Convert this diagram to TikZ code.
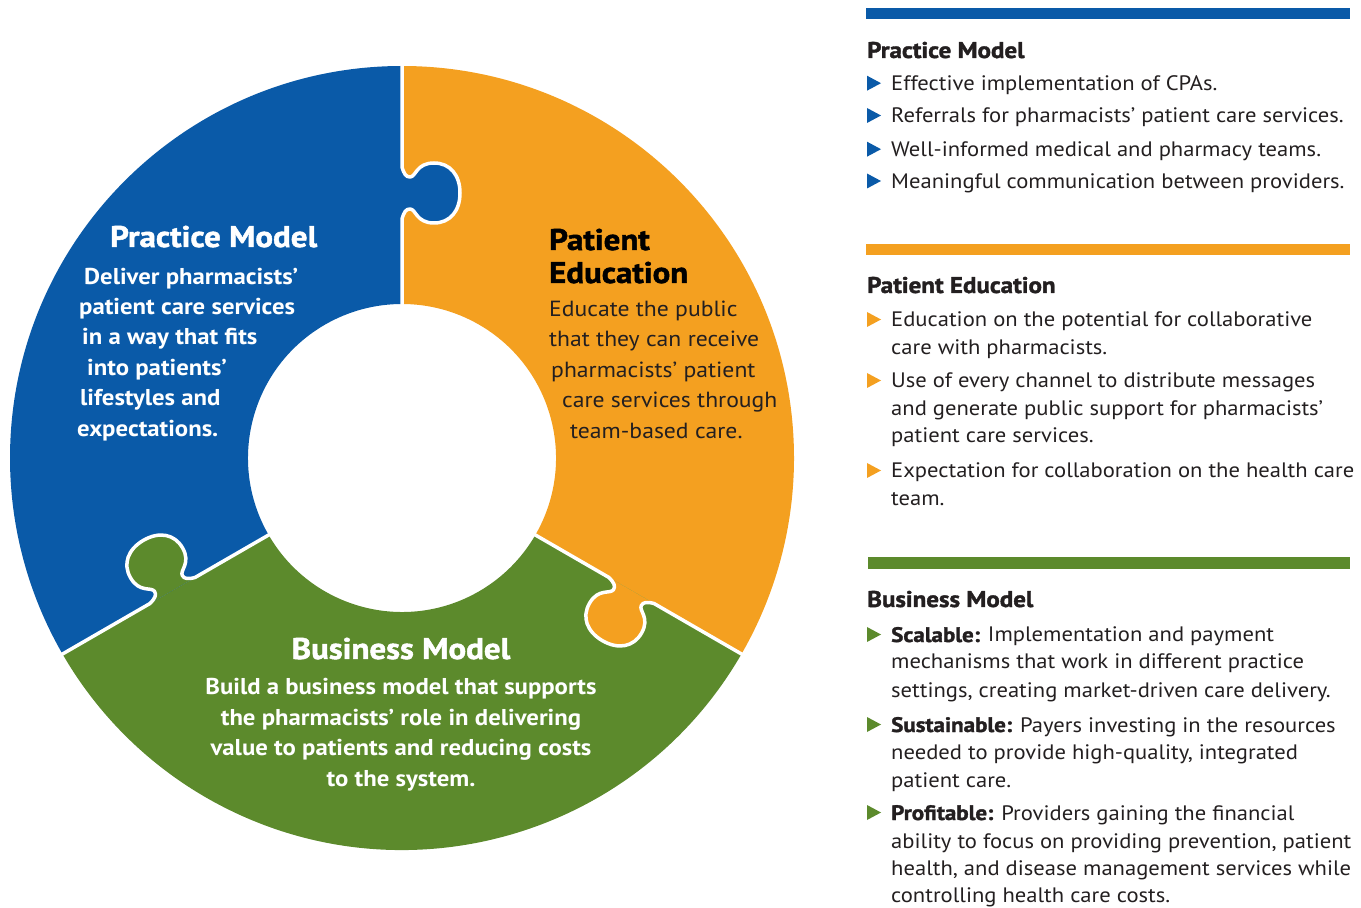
\documentclass[tikz,border=0pt]{standalone}
\usepackage{fontspec}
\setmainfont{PT Sans}[FakeStretch=1.08]
\newfontfamily\heavy{PT Sans Bold}[FakeStretch=1.1,FakeBold=1.6]
\definecolor{pblue}{HTML}{0A5AA8}
\definecolor{porange}{HTML}{F4A020}
\definecolor{pgreen}{HTML}{5C8A2C}
\definecolor{ptext}{HTML}{231F20}
\begin{document}
\begin{tikzpicture}[x=1bp,y=1bp,
  rtxt/.style={inner sep=0, text=ptext, anchor=base west, font=\fontsize{21}{24}\selectfont},
  rhead/.style={inner sep=0, text=ptext, anchor=base west, font=\fontsize{22.8}{24}\selectfont\heavy},
  ringhead/.style={inner sep=0, text=white, font=\fontsize{30}{32}\selectfont\heavy},
  ringbody/.style={inner sep=0, text=white, font=\fontsize{23}{26}\selectfont\bfseries},
  edubody/.style={inner sep=0, text=ptext, anchor=base west, font=\fontsize{22}{26}\selectfont},
  eduhead/.style={inner sep=0, text=black, anchor=base west, font=\fontsize{30}{32}\selectfont\heavy},
  divider/.style={draw=white, line width=3.5bp, line join=round},
]
\useasboundingbox (0,0) rectangle (1361,907);
% ---------------- ring ----------------
\begin{scope}[shift={(402,449)}]
  \fill[porange] (90:392) arc[start angle=90, end angle=-30, radius=392]
      -- (-30:154) arc[start angle=-30, end angle=90, radius=154] -- cycle;
  \fill[pgreen] (-30:392) arc[start angle=-30, end angle=-150, radius=392]
      -- (-150:154) arc[start angle=-150, end angle=-30, radius=154] -- cycle;
  \fill[pblue] (90:392) arc[start angle=90, end angle=210, radius=392]
      -- (210:154) arc[start angle=210, end angle=90, radius=154] -- cycle;
  \foreach \rot/\col in {0/pblue, -120/porange, 120/pgreen}{
    \begin{scope}[rotate=\rot]
      \fill[\col] (0,239) .. controls (2,246) and (4,249) .. (8,249)
        .. controls (14,249) and (14,235) .. (32,235)
        .. controls (48,235) and (58,247) .. (58,265)
        .. controls (58,283) and (48,295) .. (32,295)
        .. controls (14,295) and (14,281) .. (8,281)
        .. controls (4,281) and (2,284) .. (0,291) -- cycle;
      \draw[divider] (0,150) -- (0,239) .. controls (2,246) and (4,249) .. (8,249)
        .. controls (14,249) and (14,235) .. (32,235)
        .. controls (48,235) and (58,247) .. (58,265)
        .. controls (58,283) and (48,295) .. (32,295)
        .. controls (14,295) and (14,281) .. (8,281)
        .. controls (4,281) and (2,284) .. (0,291) -- (0,396);
    \end{scope}
  }
\end{scope}
% ring texts: Practice Model
\node[ringhead, anchor=base west] (pmh) at (110,660) {Practice Model};
\node[ringbody, anchor=base west] (pm1) at (84,622) {Deliver pharmacists’};
\node[ringbody, anchor=base west] (pm2) at (79,592) {patient care services};
\node[ringbody, anchor=base west] (pm3) at (82,562) {in a way that fits};
\node[ringbody, anchor=base west] (pm4) at (87,531) {into patients’};
\node[ringbody, anchor=base west] (pm5) at (80,501) {lifestyles and};
\node[ringbody, anchor=base west] (pm6) at (77,470) {expectations.};
% Patient Education
\node[eduhead] (peh1) at (549,657) {Patient};
\node[eduhead] (peh2) at (549,624) {Education};
\node[edubody] (pe1) at (549,590) {Educate the public};
\node[edubody] (pe2) at (549,560) {that they can receive};
\node[edubody] (pe3) at (551,529) {pharmacists’ patient};
\node[edubody] (pe4) at (562,499) {care services through};
\node[edubody] (pe5) at (570,468) {team-based care.};
% Business Model
\node[ringhead, anchor=base] (bmh) at (401,248) {Business Model};
\node[ringbody, anchor=base] (bm1) at (401,213) {Build a business model that supports};
\node[ringbody, anchor=base] (bm2) at (401,182) {the pharmacists’ role in delivering};
\node[ringbody, anchor=base] (bm3) at (401,152) {value to patients and reducing costs};
\node[ringbody, anchor=base] (bm4) at (401,121) {to the system.};
% ---------------- right column ----------------
\fill[pblue] (866,899) rectangle (1350,888);
\fill[porange] (866,663) rectangle (1350,652);
\fill[pgreen] (868,350) rectangle (1350,338);
\newcommand{\tri}[2]{\fill[#1] (867,#2) -- (867,#2+15) -- (881,#2+7.5) -- cycle;}
% Practice Model
\node[rhead] (h1) at (867,849) {Practice Model};
\tri{pblue}{816.3}\node[rtxt] (a1) at (891,816.3) {Effective implementation of CPAs.};
\tri{pblue}{784}\node[rtxt] (a2) at (891,784) {Referrals for pharmacists’ patient care services.};
\tri{pblue}{750.3}\node[rtxt] (a3) at (891,750.3) {Well-informed medical and pharmacy teams.};
\tri{pblue}{718.5}\node[rtxt] (a4) at (891,718.5) {Meaningful communication between providers.};
% Patient Education
\node[rhead] (h2) at (867,614) {Patient Education};
\tri{porange}{580}\node[rtxt] (b1) at (891,580) {Education on the potential for collaborative};
\node[rtxt] (b2) at (891,552) {care with pharmacists.};
\tri{porange}{519}\node[rtxt] (b3) at (891,519) {Use of every channel to distribute messages};
\node[rtxt] (b4) at (891,491) {and generate public support for pharmacists’};
\node[rtxt] (b5) at (891,464) {patient care services.};
\tri{porange}{429}\node[rtxt] (b6) at (891,429) {Expectation for collaboration on the health care};
\node[rtxt] (b7) at (891,401) {team.};
% Business Model
\node[rhead] (h3) at (867,300) {Business Model};
\tri{pgreen}{265}\node[rtxt] (c1) at (891,265) {{\heavy Scalable:} Implementation and payment};
\node[rtxt] (c2) at (891,238) {mechanisms that work in different practice};
\node[rtxt] (c3) at (891,210) {settings, creating market-driven care delivery.};
\tri{pgreen}{175}\node[rtxt] (c4) at (891,175) {{\heavy Sustainable:} Payers investing in the resources};
\node[rtxt] (c5) at (891,148) {needed to provide high-quality, integrated};
\node[rtxt] (c6) at (891,120) {patient care.};
\tri{pgreen}{87}\node[rtxt] (c7) at (891,87) {{\heavy Profitable:} Providers gaining the financial};
\node[rtxt] (c8) at (891,59) {ability to focus on providing prevention, patient};
\node[rtxt] (c9) at (891,32) {health, and disease management services while};
\node[rtxt] (c10) at (891,5) {controlling health care costs.};
\end{tikzpicture}
\end{document}
